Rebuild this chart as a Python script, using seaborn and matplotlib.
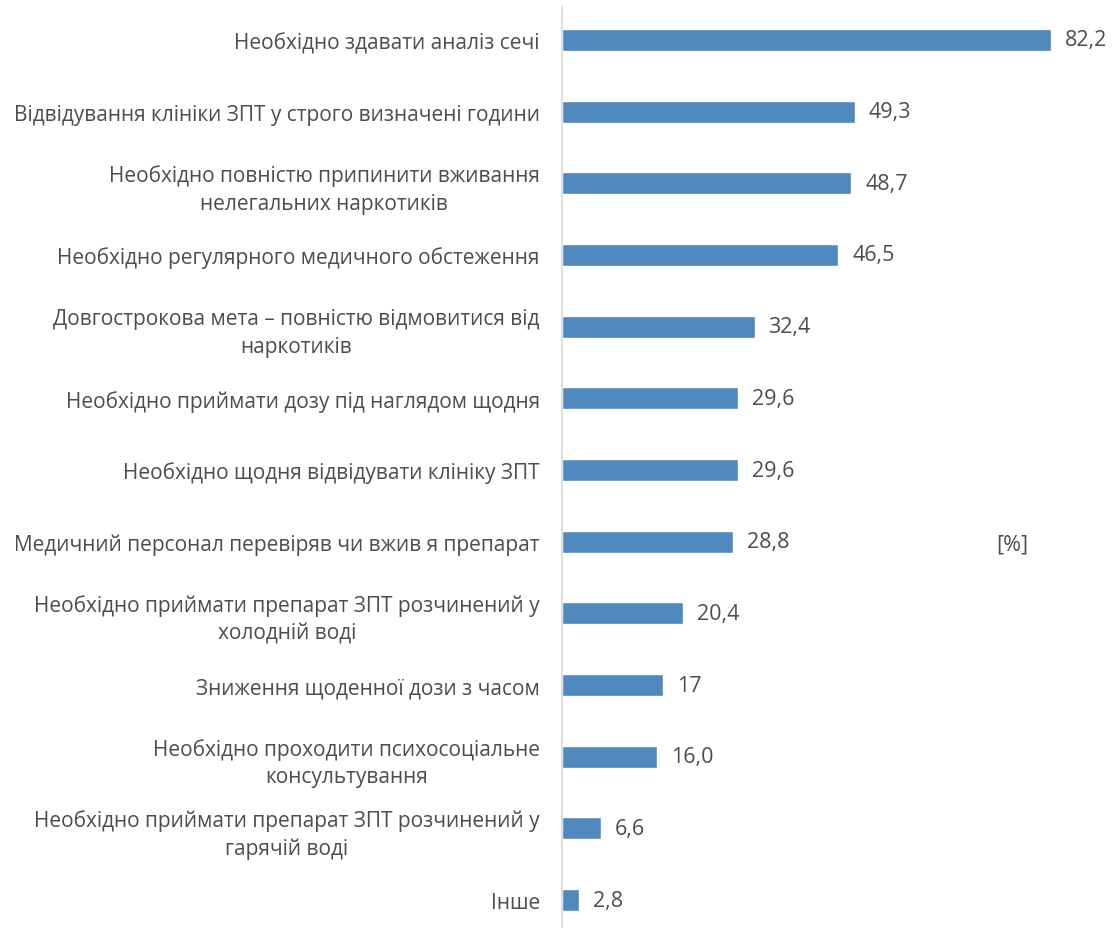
import matplotlib
matplotlib.use("Agg")
import matplotlib.pyplot as plt
import seaborn as sns
import pandas as pd

categories = [
    "Необхідно здавати аналіз сечі",
    "Відвідування клініки ЗПТ у строго визначені години",
    "Необхідно повністю припинити вживання\nнелегальних наркотиків",
    "Необхідно регулярного медичного обстеження",
    "Довгострокова мета – повністю відмовитися від\nнаркотиків",
    "Необхідно приймати дозу під наглядом щодня",
    "Необхідно щодня відвідувати клініку ЗПТ",
    "Медичний персонал перевіряв чи вжив я препарат",
    "Необхідно приймати препарат ЗПТ розчинений у\nхолодній воді",
    "Зниження щоденної дози з часом",
    "Необхідно проходити психосоціальне\nконсультування",
    "Необхідно приймати препарат ЗПТ розчинений у\nгарячій воді",
    "Інше",
]
values = [82.2, 49.3, 48.7, 46.5, 32.4, 29.6, 29.6, 28.8, 20.4, 17.0, 16.0, 6.6, 2.8]
value_labels = ["82,2", "49,3", "48,7", "46,5", "32,4", "29,6", "29,6", "28,8",
                "20,4", "17", "16,0", "6,6", "2,8"]
unit_label = "[%]"

df = pd.DataFrame({"category": categories, "value": values})

sns.set_theme(style="white")
plt.rcParams["font.family"] = ["Open Sans", "DejaVu Sans"]

text_color = "#4d4d4d"
bar_color = "#4F89BD"

fig = plt.figure(figsize=(11.12, 9.29), dpi=100)
ax = fig.add_axes([562 / 1112, 0.0, (1097 - 562) / 1112, 1 - 8 / 929])

sns.barplot(data=df, x="value", y="category", orient="h", color=bar_color,
            width=0.31, saturation=1, ax=ax)

ax.set_xlim(0, 90)
ax.set_ylim(12.39, -0.46)
ax.set_xlabel("")
ax.set_ylabel("")
ax.set_xticks([])

for side in ["top", "right", "bottom"]:
    ax.spines[side].set_visible(False)
ax.spines["left"].set_color("#d9d9d9")
ax.spines["left"].set_linewidth(1.2)

ax.tick_params(axis="y", length=0, pad=16, labelsize=15, labelcolor=text_color)
for lbl in ax.get_yticklabels():
    lbl.set_multialignment("center")
    lbl.set_linespacing(1.4)

ax.bar_label(ax.containers[0], labels=value_labels, padding=10,
             fontsize=15.5, color=text_color)

fig.text(1012 / 1112, 1 - 545 / 929, unit_label, ha="center", va="center",
         fontsize=15.5, color=text_color)

fig.savefig("out.png", dpi=100, facecolor="white")
